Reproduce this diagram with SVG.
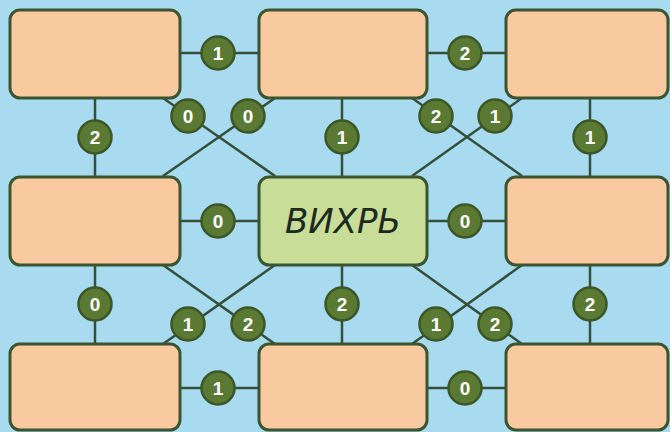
<svg xmlns="http://www.w3.org/2000/svg" width="670" height="432" viewBox="0 0 670 432">
<style>
.bg{fill:#a8daf0}
.box{fill:#f9c9a0;stroke:#3b5530;stroke-width:3}
.center{fill:#c7dd98;stroke:#3b5530;stroke-width:3}
.ln{stroke:#34503a;stroke-width:2.5;fill:none}
.bd circle{fill:#5a7a34;stroke:#3d5626;stroke-width:2.5}
.bd text{fill:#ffffff;font-family:"Liberation Sans",Arial,sans-serif;font-weight:bold;font-size:19px;text-anchor:middle}
.title{fill:#1f2a1f;font-family:"DejaVu Sans","Liberation Sans",sans-serif;font-style:italic;font-size:34px;text-anchor:middle}
</style>
<rect class="bg" x="0" y="0" width="670" height="432"/>
<g id="connectors">
<path class="ln" d="M180 53H259M427 53H506M180 221H259M427 221H506M180 388H259M427 388H506"/>
<path class="ln" d="M95 98V176M342 98V176M590 98V176M95 265V344M342 265V344M590 265V344"/>
<path class="ln" d="M163 98L275 176M275 98L163 176M412 98L522 176M522 98L412 176"/>
<path class="ln" d="M163 265L275 344M275 265L163 344M412 265L522 344M522 265L412 344"/>
<g class="bd">
<circle cx="218" cy="53" r="16.5"/><text x="218" y="60">1</text>
<circle cx="465" cy="53" r="16.5"/><text x="465" y="60">2</text>
<circle cx="95" cy="137" r="16.5"/><text x="95" y="144">2</text>
<circle cx="342" cy="137" r="16.5"/><text x="342" y="144">1</text>
<circle cx="590" cy="137" r="16.5"/><text x="590" y="144">1</text>
<circle cx="188" cy="116" r="16.5"/><text x="188" y="123">0</text>
<circle cx="248" cy="116" r="16.5"/><text x="248" y="123">0</text>
<circle cx="436" cy="116" r="16.5"/><text x="436" y="123">2</text>
<circle cx="495" cy="116" r="16.5"/><text x="495" y="123">1</text>
<circle cx="218" cy="221" r="16.5"/><text x="218" y="228">0</text>
<circle cx="465" cy="221" r="16.5"/><text x="465" y="228">0</text>
<circle cx="95" cy="304" r="16.5"/><text x="95" y="311">0</text>
<circle cx="342" cy="304" r="16.5"/><text x="342" y="311">2</text>
<circle cx="590" cy="304" r="16.5"/><text x="590" y="311">2</text>
<circle cx="188" cy="324" r="16.5"/><text x="188" y="331">1</text>
<circle cx="248" cy="324" r="16.5"/><text x="248" y="331">2</text>
<circle cx="436" cy="324" r="16.5"/><text x="436" y="331">1</text>
<circle cx="495" cy="324" r="16.5"/><text x="495" y="331">2</text>
<circle cx="218" cy="388" r="16.5"/><text x="218" y="395">1</text>
<circle cx="465" cy="388" r="16.5"/><text x="465" y="395">0</text>
</g>
</g>
<g id="n-top-left"><rect class="box" x="10" y="10" width="170" height="88" rx="10"/></g>
<g id="n-top-mid"><rect class="box" x="259" y="10" width="168" height="88" rx="10"/></g>
<g id="n-top-right"><rect class="box" x="506" y="10" width="162" height="88" rx="10"/></g>
<g id="n-mid-left"><rect class="box" x="10" y="177" width="170" height="88" rx="10"/></g>
<g id="n-center"><rect class="center" x="259" y="177" width="168" height="88" rx="10"/><text class="title" x="343" y="233">ВИХРЬ</text></g>
<g id="n-mid-right"><rect class="box" x="506" y="177" width="162" height="88" rx="10"/></g>
<g id="n-bot-left"><rect class="box" x="10" y="344" width="170" height="86" rx="10"/></g>
<g id="n-bot-mid"><rect class="box" x="259" y="344" width="168" height="86" rx="10"/></g>
<g id="n-bot-right"><rect class="box" x="506" y="344" width="162" height="86" rx="10"/></g>
</svg>
